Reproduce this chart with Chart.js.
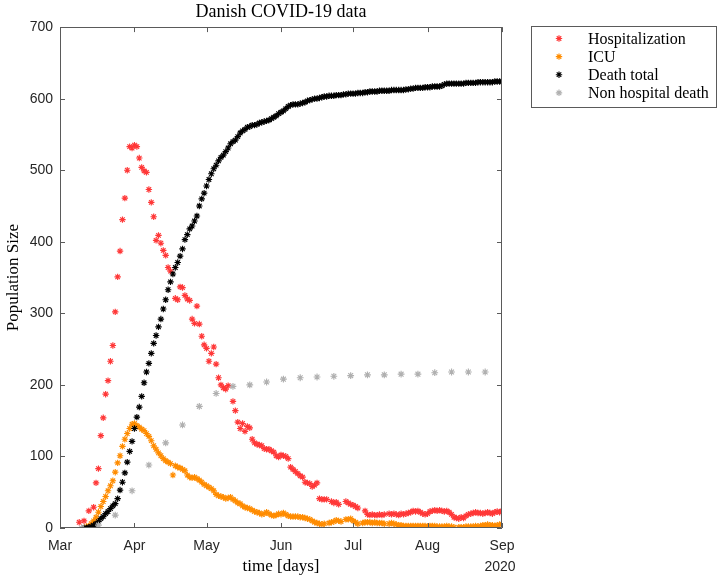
<!DOCTYPE html>
<html>
<head>
<meta charset="utf-8">
<script src="https://cdn.jsdelivr.net/npm/chart.js@4/dist/chart.umd.min.js"></script>
<style>
  html, body { margin: 0; padding: 0; background: #fff; }
</style>
</head>
<body>
<canvas id="covidChart" width="720" height="580"></canvas>
<script>
// x axis: days since 1 March 2020
const MONTH_LABELS = ['Mar', 'Apr', 'May', 'Jun', 'Jul', 'Aug', 'Sep'];
const MONTH_DAYS = [0, 31, 61, 92, 122, 153, 184];

// daily series, first value is at the given start day (null = no report)
const HOSP_START = 8;
const hospitalization = [
  8, null, 10, null, 24, null, 29, 63, 83, 129,
  154, 187, 206, 233, 255, 302, 351, 387, 431, 461,
  500, 533, 531, 535, 533, 517, 504, 499, 497, 473,
  455, 435, 402, 409, 398, 388, 381, 364, 359, null,
  321, 319, 337, 336, 325, 320, 318, 292, 286, 310,
  285, 268, 256, 251, 233, 244, 253, 229, 210, 200,
  196, 194, 199, null, 177, 164, 148, 139, 146, 135,
  142, 140, 124, 119, 117, 116, 115, 111, 110, 110,
  108, 106, 101, 99, 102, 101, 100, 97, 85, 82,
  79, 76, 73, 71, 64, 63, 62, 58, 60, 63,
  41, 40, 40, 40, null, 37, 35, 36, 33, null,
  null, 37, 35, 33, 32, 30, 28, null, null, 24,
  19, 18, 19, 18, 18, 19, 18, 19, null, 20,
  19, 20, 19, 18, 20, 19, 20, 21, 22, 24,
  23, 24, 22, 20, 19, 20, 23, 24, 25, 24,
  25, 24, 23, 24, 22, 19, 15, 14, 13, 15,
  14, 17, 19, 20, 21, 22, 21, 21, 20, 21,
  22, 21, 20, 22, 23, 22, 24,
];

const ICU_START = 11;
const icu = [
  2, 3, 6, 10, 15, 22, 30, 37, 44, 52,
  59, 66, 78, 91, 101, 114, 124, 132, 139, 145,
  146, 143, 141, 138, 136, 132, 128, 122, 115, 110,
  105, 101, 97, 94, 92, 90, 74, 87, 85, 84,
  82, 80, 74, 71, 70, 71, 69, 67, 64, 61,
  59, 57, 55, 52, 47, 45, 44, 43, 41, 42,
  43, 40, 38, 35, 34, 31, 29, 28, 27, 25,
  23, 22, 21, 19, 20, 22, 20, 18, 17, 18,
  20, 19, 21, 19, 17, 16, 16, 16, 16, 15,
  15, 14, 13, 12, 10, 8, 7, 6, 5, 6,
  null, 7, 8, 9, 11, 10, 9, null, 12, 12,
  13, 10, 8, 6, null, 7, 8, 8, 8, 7,
  8, 7, 7, 7, 6, null, 6, 7, 6, 5,
  4, 4, 3, 3, 3, 3, 3, 3, 3, 3,
  3, 3, 2, 3, 3, 3, 2, 2, 2, 2,
  3, 2, 2, 1, null, 1, 1, 1, 2, 2,
  2, 2, 3, 2, 3, 4, 4, 5, 4, 4,
  3, 4, 5, 5,
];

const DEATH_START = 10;
const deathTotal = [
  0, 0, 1, 2, 4, 6, 9, 13, 16, 20,
  23, 27, 31, 34, 41, 53, 64, 77, 92, 107,
  121, 139, 155, 169, 184, 203, 218, 230, 244, 258,
  269, 281, 292, 306, 319, 333, 344, 355, 364, 371,
  380, 390, 403, 410, 418, 422, 429, 436, 450, 460,
  468, 478, 487, 495, 502, 507, 513, 518, 521, 526,
  531, 537, 540, 542, 547, 552, 555, 557, 560, 561,
  563, 563, 564, 566, 567, 568, 569, 570, 572, 574,
  576, 579, 581, 583, 586, 589, 591, 592, 592, 592,
  593, 594, 595, 597, 598, 599, 600, 600, 601, 602,
  603, 603, 604, 604, 604, 605, 605, 605, 606, 606,
  607, 607, 607, 607, 608, 608, 608, 609, 609, 610,
  610, 610, 610, 611, 611, 611, 611, 611, 612, 612,
  612, 612, 612, 612, 613, 613, 614, 614, 615, 615,
  615, 615, 616, 616, 616, 617, 617, 617, 617, 618,
  620, 621, 621, 621, 621, 621, 621, 621, 621, 622,
  622, 622, 622, 622, 623, 623, 623, 623, 623, 623,
  623, 624, 624, 624, 624,
];

// weekly reports
const nonHospDays = [9, 16, 23, 30, 37, 44, 51, 58, 65, 72, 79, 86, 93, 100, 107, 114, 121, 128, 135, 142, 149, 156, 163, 170, 177];
const nonHospDeath = [0, 4, 18, 52, 88, 119, 144, 170, 188, 198, 200, 204, 208, 210, 211, 212, 213, 214, 214, 215, 215, 217, 218, 218, 218];

const COLORS = {
  hosp: '#ff3838',
  icu: '#ff8c00',
  death: '#000000',
  nonHosp: '#b0b0b0',
};
const AXIS_COLOR = '#5a5a5a';
const TEXT_COLOR = '#262626';
const SERIF = '"Liberation Serif", "Times New Roman", serif';
const SANS = '"Liberation Sans", Arial, sans-serif';
const TICK_LEN = 5;

function dailyPoints(values, start) {
  return values.map((v, i) => ({ x: start + i, y: v })).filter(p => p.y !== null);
}

function starSet(label, data, color, order, radius = 3.2) {
  return {
    label,
    data,
    order,
    pointStyle: 'star',
    radius,
    borderWidth: 1.15,
    borderColor: color,
    backgroundColor: color,
    showLine: false,
  };
}

// box + inward ticks on all four sides, like a matlab axes with box on
const matlabFrame = {
  id: 'matlabFrame',
  afterDatasetsDraw(chart) {
    const { ctx, chartArea: a, scales: { x, y } } = chart;
    ctx.save();
    ctx.strokeStyle = AXIS_COLOR;
    ctx.lineWidth = 1;
    ctx.beginPath();
    ctx.rect(Math.round(a.left) + 0.5, Math.round(a.top) + 0.5,
      Math.round(a.right - a.left) - 1, Math.round(a.bottom - a.top) - 1);
    for (const t of x.ticks) {
      const px = Math.round(x.getPixelForValue(t.value)) + 0.5;
      ctx.moveTo(px, a.bottom); ctx.lineTo(px, a.bottom - TICK_LEN);
      ctx.moveTo(px, a.top); ctx.lineTo(px, a.top + TICK_LEN);
    }
    for (const t of y.ticks) {
      const py = Math.round(y.getPixelForValue(t.value)) + 0.5;
      ctx.moveTo(a.left, py); ctx.lineTo(a.left + TICK_LEN, py);
      ctx.moveTo(a.right, py); ctx.lineTo(a.right - TICK_LEN, py);
    }
    ctx.stroke();
    // year label under the last month
    ctx.fillStyle = TEXT_COLOR;
    ctx.font = '14px ' + SANS;
    ctx.textAlign = 'center';
    ctx.textBaseline = 'middle';
    ctx.fillText('2020', a.right - 2, 567);
    ctx.restore();
  },
};

// boxed legend to the right of the axes
const boxLegend = {
  id: 'boxLegend',
  afterDraw(chart) {
    const { ctx } = chart;
    const box = { left: 531, top: 26, width: 185, height: 81 };
    ctx.save();
    ctx.fillStyle = '#fff';
    ctx.fillRect(box.left, box.top, box.width, box.height);
    ctx.strokeStyle = AXIS_COLOR;
    ctx.lineWidth = 1;
    ctx.strokeRect(box.left + 0.5, box.top + 0.5, box.width, box.height);
    ctx.font = '16px ' + SERIF;
    ctx.textBaseline = 'middle';
    chart.data.datasets.forEach((ds, i) => {
      const cy = 38.5 + i * 18.1;
      ctx.strokeStyle = ds.borderColor;
      ctx.fillStyle = ds.borderColor;
      ctx.lineWidth = ds.borderWidth;
      Chart.helpers.drawPoint(ctx, { pointStyle: 'star', radius: 3.2, rotation: 0, borderWidth: ds.borderWidth }, 559, cy);
      ctx.fillStyle = '#000';
      ctx.textAlign = 'left';
      ctx.fillText(ds.label, 588, cy + 1);
    });
    ctx.restore();
  },
};

new Chart(document.getElementById('covidChart'), {
  type: 'scatter',
  data: {
    datasets: [
      starSet('Hospitalization', dailyPoints(hospitalization, HOSP_START), COLORS.hosp, 4),
      starSet('ICU', dailyPoints(icu, ICU_START), COLORS.icu, 3),
      starSet('Death total', dailyPoints(deathTotal, DEATH_START), COLORS.death, 2),
      starSet('Non hospital death', nonHospDays.map((d, i) => ({ x: d, y: nonHospDeath[i] })), COLORS.nonHosp, 1, 3.4),
    ],
  },
  options: {
    responsive: false,
    animation: false,
    events: [],
    layout: { padding: { left: 0, top: 0, right: 218, bottom: 0 } },
    plugins: {
      legend: { display: false },
      tooltip: { enabled: false },
      title: {
        display: true,
        text: 'Danish COVID-19 data',
        fullSize: false,
        color: '#000',
        font: { family: SERIF, size: 18, weight: 'normal' },
        padding: { top: 1.5, bottom: 4 },
      },
    },
    scales: {
      x: {
        type: 'linear',
        min: 0,
        max: 184,
        afterBuildTicks: scale => { scale.ticks = MONTH_DAYS.map(v => ({ value: v })); },
        afterFit: scale => { scale.height = 52; },
        grid: { display: false, drawTicks: false },
        border: { display: false },
        ticks: {
          padding: 10,
          color: TEXT_COLOR,
          font: { family: SANS, size: 14 },
          maxRotation: 0,
          callback: v => MONTH_LABELS[MONTH_DAYS.indexOf(v)],
        },
        title: {
          display: true,
          text: 'time [days]',
          color: '#000',
          font: { family: SERIF, size: 17 },
          padding: { top: 0, bottom: 2.8 },
        },
      },
      y: {
        min: 0,
        max: 700,
        afterFit: scale => { scale.width = 60; },
        grid: { display: false, drawTicks: false },
        border: { display: false },
        ticks: {
          stepSize: 100,
          padding: 7,
          color: TEXT_COLOR,
          font: { family: SANS, size: 14 },
        },
        title: {
          display: true,
          text: 'Population Size',
          color: '#000',
          font: { family: SERIF, size: 17 },
          padding: { top: 3.5, bottom: 0 },
        },
      },
    },
  },
  plugins: [matlabFrame, boxLegend],
});
</script>
</body>
</html>
